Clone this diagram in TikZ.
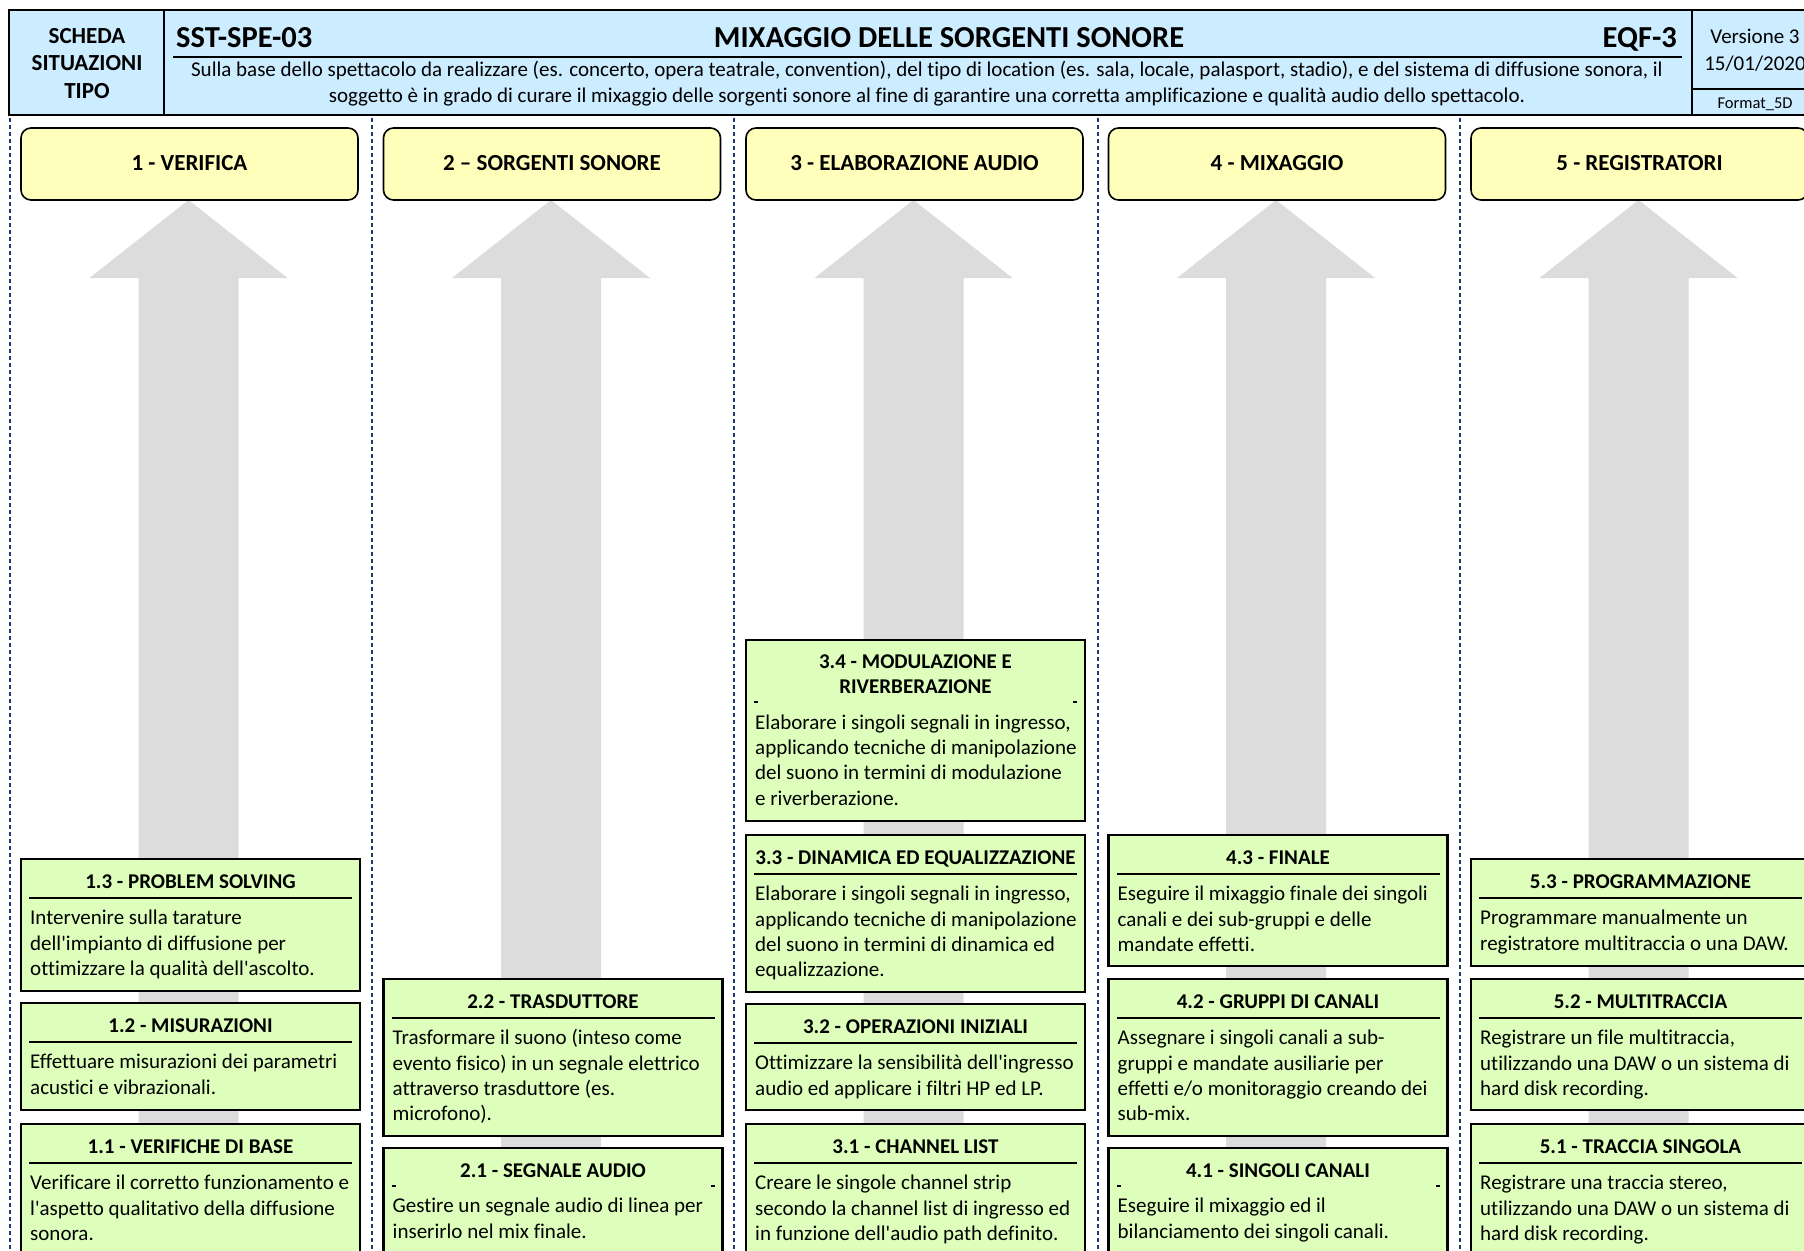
\documentclass[tikz,border=0pt]{standalone}
\usepackage{fontspec}
\setmainfont{Carlito}[Ligatures={TeXOff,NoCommon}]

\definecolor{headerblue}{HTML}{CCECFF}
\definecolor{headyellow}{HTML}{FFFFBB}
\definecolor{cardgreen}{HTML}{DDFFBB}
\definecolor{arrowgray}{HTML}{DCDCDC}
\definecolor{sepnavy}{HTML}{1F3A6E}

% strut that fixes the top of the first text line
\newcommand\fl{\rule{0pt}{18pt}}

% green card: name, left x, top y, bottom y, title, body lines
\newcommand\card[6]{%
  \path[cardbox] (#2,#3) rectangle (#2+339,#4);
  \node[cardtitle] (#1-title) at (#2+169.5,#3+29) {#5};
  \draw[cardrule] (#2+8,#3+39) -- (#2+331,#3+39);
  \node[cardtext] (#1-body) at (#2+9,#3+47.5) {\fl #6};
}
% same card, title rule shown only as two short end marks
\newcommand\tickcard[6]{%
  \path[cardbox] (#2,#3) rectangle (#2+339,#4);
  \node[cardtitle] (#1-title) at (#2+169.5,#3+29) {#5};
  \draw[cardrule] (#2+8,#3+38) -- (#2+12,#3+38);
  \draw[cardrule] (#2+327,#3+38) -- (#2+331,#3+38);
  \node[cardtext] (#1-body) at (#2+9,#3+46.5) {\fl #6};
}
% column heading box: name, left x, text
\newcommand\headbox[3]{%
  \path[headbox] (#2,128) rectangle (#2+337,200);
  \node[headtext] (#1) at (#2+168.5,170.5) {#3};
}
% grey upward block arrow centred at x
\newcommand\uparrowshape[1]{%
  \fill[arrowgray] (#1,200) -- (#1+99,278) -- (#1+50,278) -- (#1+50,1262)
    -- (#1-50,1262) -- (#1-50,278) -- (#1-99,278) -- cycle;
}

\begin{document}
\begin{tikzpicture}[x=1pt,y=-1pt,
  cardbox/.style={draw=black,line width=2.6pt,fill=cardgreen},
  cardrule/.style={draw=black,line width=1.5pt},
  cardtitle/.style={font=\bfseries\fontsize{21}{25.3}\selectfont,inner sep=0pt,anchor=base},
  cardtext/.style={font=\fontsize{21}{25.3}\selectfont,inner sep=0pt,align=left,anchor=north west},
  headbox/.style={draw=black,line width=1.6pt,fill=headyellow,rounded corners=10pt},
  headtext/.style={font=\bfseries\fontsize{23}{27}\selectfont,inner sep=0pt,anchor=base},
  colsep/.style={draw=sepnavy,line width=2pt,dash pattern=on 4pt off 3pt},
  hdrline/.style={draw=black,line width=1.8pt},
  hdrthin/.style={draw=black,line width=1.1pt},
  hdrbold/.style={font=\bfseries\fontsize{23}{27}\selectfont,inner sep=0pt,anchor=base},
  hdrbig/.style={font=\bfseries\fontsize{30.5}{34}\selectfont,inner sep=0pt},
  hdrtext/.style={font=\fontsize{21}{25}\selectfont,inner sep=0pt,anchor=base},
]
\useasboundingbox (0,0) rectangle (1804,1250);
\clip (0,0) rectangle (1804,1250);
\fill[white] (0,0) rectangle (1804,1250);

% ---------- header ----------
\path[fill=headerblue,hdrline] (9,10) rectangle (1850,115);
\draw[hdrline] (164,10) -- (164,115);
\draw[hdrline] (1692,10) -- (1692,115);
\draw[hdrthin] (173,57) -- (1682,57);
\draw[hdrthin] (1692,89) -- (1850,89);

\node[hdrbold] (kind1) at (87,43) {SCHEDA};
\node[hdrbold] (kind2) at (87,70.5) {SITUAZIONI};
\node[hdrbold] (kind3) at (87,98) {TIPO};

\node[hdrbig,anchor=base west] (code) at (176,47) {SST-SPE-03};
\node[hdrbig,anchor=base] (title) at (949,47) {MIXAGGIO DELLE SORGENTI SONORE};
\node[hdrbig,anchor=base east] (eqf) at (1677,47) {EQF-3};

\node[hdrtext] (desc1) at (927,76.5) {Sulla base dello spettacolo da realizzare (es. concerto, opera teatrale, convention), del tipo di location (es. sala, locale, palasport, stadio), e del sistema di diffusione sonora, il};
\node[hdrtext] (desc2) at (927,102) {soggetto è in grado di curare il mixaggio delle sorgenti sonore al fine di garantire una corretta amplificazione e qualità audio dello spettacolo.};

\node[hdrtext] (ver) at (1755,43) {Versione 3};
\node[hdrtext] (date) at (1755,70) {15/01/2020};
\node[font=\fontsize{16.5}{20}\selectfont,inner sep=0pt,anchor=base] (fmt) at (1755,108) {Format\_5D};

% ---------- column separators ----------
\foreach \sx in {10,371.5,734,1097.5,1460}
  {\draw[colsep] (\sx,118) -- (\sx,1262);}

% ---------- grey arrows ----------
\foreach \k in {0,...,4}
  {\uparrowshape{188.5+362.5*\k}}

% ---------- column headings ----------
\headbox{h1}{21}{1 - VERIFICA}
\headbox{h2}{383.5}{2 – SORGENTI SONORE}
\headbox{h3}{746}{3 - ELABORAZIONE AUDIO}
\headbox{h4}{1108.5}{4 - MIXAGGIO}
\headbox{h5}{1471}{5 - REGISTRATORI}

% ---------- column 1 ----------
\card{c13}{21}{859}{991}{1.3 - PROBLEM SOLVING}
  {Intervenire sulla tarature\\dell'impianto di diffusione per\\ottimizzare la qualità dell'ascolto.}
\card{c12}{21}{1003}{1110}{1.2 - MISURAZIONI}
  {Effettuare misurazioni dei parametri\\acustici e vibrazionali.}
\card{c11}{21}{1124}{1262}{1.1 - VERIFICHE DI BASE}
  {Verificare il corretto funzionamento e\\l'aspetto qualitativo della diffusione\\sonora.}

% ---------- column 2 ----------
\card{c22}{383.5}{979}{1136}{2.2 - TRASDUTTORE}
  {Trasformare il suono (inteso come\\evento fisico) in un segnale elettrico\\attraverso trasduttore (es.\\microfono).}
\tickcard{c21}{383.5}{1148}{1262}{2.1 - SEGNALE AUDIO}
  {Gestire un segnale audio di linea per\\inserirlo nel mix finale.}

% ---------- column 3 ----------
\path[cardbox] (746,640) rectangle (1085,821);
\node[cardtitle,align=center,anchor=north] (c34-title) at (915.5,650)
  {\fl 3.4 - MODULAZIONE E\\RIVERBERAZIONE};
\draw[cardrule] (754,702) -- (758,702);
\draw[cardrule] (1073,702) -- (1077,702);
\node[cardtext] (c34-body) at (755,711) {\fl Elaborare i singoli segnali in ingresso,\\applicando tecniche di manipolazione\\del suono in termini di modulazione\\e riverberazione.};
\card{c33}{746}{835}{992}{3.3 - DINAMICA ED EQUALIZZAZIONE}
  {Elaborare i singoli segnali in ingresso,\\applicando tecniche di manipolazione\\del suono in termini di dinamica ed\\equalizzazione.}
\card{c32}{746}{1004}{1110}{3.2 - OPERAZIONI INIZIALI}
  {Ottimizzare la sensibilità dell'ingresso\\audio ed applicare i filtri HP ed LP.}
\card{c31}{746}{1124}{1262}{3.1 - CHANNEL LIST}
  {Creare le singole channel strip\\secondo la channel list di ingresso ed\\in funzione dell'audio path definito.}

% ---------- column 4 ----------
\card{c43}{1108.5}{835}{966}{4.3 - FINALE}
  {Eseguire il mixaggio finale dei singoli\\canali e dei sub-gruppi e delle\\mandate effetti.}
\card{c42}{1108.5}{979}{1136}{4.2 - GRUPPI DI CANALI}
  {Assegnare i singoli canali a sub-\\gruppi e mandate ausiliarie per\\effetti e/o monitoraggio creando dei\\sub-mix.}
\tickcard{c41}{1108.5}{1148}{1262}{4.1 - SINGOLI CANALI}
  {Eseguire il mixaggio ed il\\bilanciamento dei singoli canali.}

% ---------- column 5 ----------
\card{c53}{1471}{859}{966}{5.3 - PROGRAMMAZIONE}
  {Programmare manualmente un\\registratore multitraccia o una DAW.}
\card{c52}{1471}{979}{1110}{5.2 - MULTITRACCIA}
  {Registrare un file multitraccia,\\utilizzando una DAW o un sistema di\\hard disk recording.}
\card{c51}{1471}{1124}{1262}{5.1 - TRACCIA SINGOLA}
  {Registrare una traccia stereo,\\utilizzando una DAW o un sistema di\\hard disk recording.}
\end{tikzpicture}
\end{document}
